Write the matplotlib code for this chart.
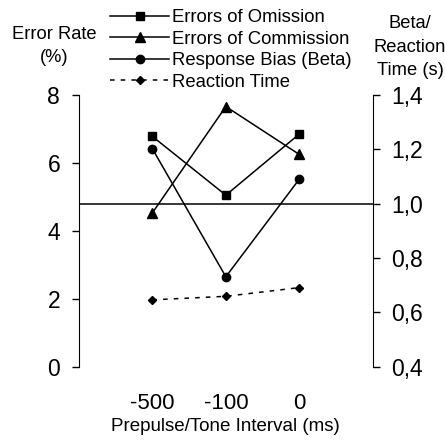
import matplotlib
matplotlib.use("Agg")
import matplotlib.pyplot as plt
from matplotlib.ticker import FuncFormatter

plt.rcParams['font.family'] = ['Liberation Sans', 'DejaVu Sans']

intervals = ['-500', '-100', '0']
omission = [6.78, 5.05, 6.85]
commission = [4.53, 7.66, 6.25]
beta = [1.202, 0.731, 1.09]
reaction_time = [0.646, 0.659, 0.691]

x = list(range(len(intervals)))

fig = plt.figure(figsize=(4.45, 4.47), dpi=100)
ax = fig.add_axes([0.1775, 0.1797, 0.66, 0.6078])
ax2 = ax.twinx()

lw = 1.1
h1, = ax.plot(x, omission, color='black', lw=lw, marker='s', markersize=6, label='Errors of Omission')
h2, = ax.plot(x, commission, color='black', lw=lw, marker='^', markersize=7, label='Errors of Commission')
h3, = ax2.plot(x, beta, color='black', lw=lw, marker='o', markersize=6, label='Response Bias (Beta)')
h4, = ax2.plot(x, reaction_time, color='black', lw=lw, marker='D', markersize=4.5,
               linestyle=(0, (3, 4)), label='Reaction Time')
ax2.axhline(1.0, color='black', lw=lw)

ax.set_xlim(-1, 3)
ax.set_ylim(0, 8)
ax2.set_ylim(0.4, 1.4)
ax.set_yticks([0, 2, 4, 6, 8])
ax2.set_yticks([0.4, 0.6, 0.8, 1.0, 1.2, 1.4])
ax2.yaxis.set_major_formatter(FuncFormatter(lambda v, p: f"{v:.1f}".replace('.', ',')))
ax.set_xticks(x)
ax.set_xticklabels(intervals)

for a in (ax, ax2):
    a.spines['top'].set_visible(False)
    a.spines['bottom'].set_visible(False)
ax.spines['right'].set_visible(False)
ax2.spines['left'].set_visible(False)

ax.tick_params(axis='y', direction='out', length=5, width=1, labelsize=16.5, pad=8.5)
ax2.tick_params(axis='y', direction='out', length=5, width=1, labelsize=16.5, pad=8.5)
ax.tick_params(axis='x', length=0, labelsize=16, pad=19)

ax.set_xlabel('Prepulse/Tone Interval (ms)', fontsize=13.5, labelpad=3)

fig.text(54 / 445, 1 - 46 / 447, 'Error Rate\n(%)', ha='center', va='center',
         fontsize=13.2, linespacing=1.45)
fig.text(410 / 445, 1 - 47 / 447, 'Beta/\nReaction\nTime (s)', ha='center', va='center',
         fontsize=13.2, linespacing=1.5)

fig.legend(handles=[h1, h2, h3, h4], loc='upper left', bbox_to_anchor=(110 / 445, 1 - 9 / 447),
           frameon=False, fontsize=13.3, borderpad=0, borderaxespad=0,
           handlelength=3.2, handletextpad=0.15, labelspacing=0.25, numpoints=1)

fig.savefig('out.png', dpi=100)
